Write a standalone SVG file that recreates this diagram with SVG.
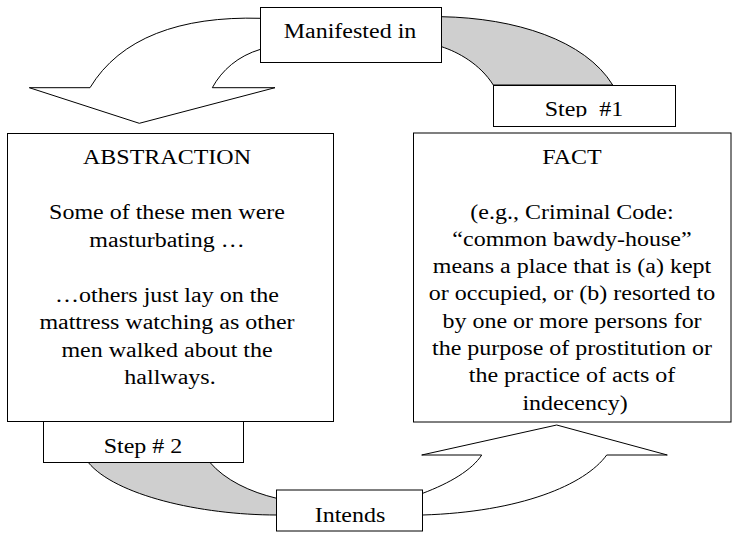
<svg xmlns="http://www.w3.org/2000/svg" width="733" height="533" viewBox="0 0 733 533">
<style>
.box{fill:#fff;stroke:#000;stroke-width:1}
.arw{fill:#fff;stroke:#000;stroke-width:1;stroke-linejoin:miter}
.shd{fill:#cfcfcf;stroke:#000;stroke-width:1}
.t{font-family:"Liberation Serif","Times New Roman",serif;font-size:24px;text-anchor:middle;fill:#000}
</style>
<defs>
<clipPath id="c1"><rect x="493" y="85" width="184" height="32.5"/></clipPath>
</defs>
<g id="connectors">
<path class="arw" d="M260.5,18.3 C180,16 120,38 90,87.7 L29.3,87.7 L139.3,123.3 L275,87.7 L212.3,87.7 C222,70 238,56 260.5,49.3"/>
<path class="shd" d="M441.5,16.7 C515,18 585,40 612.7,85 L493.3,85 C480,64 458,52 441.5,46.7 Z"/>
<path class="shd" d="M88.3,462.5 C115,495 200,515 276.7,515 L276.7,498.3 C250,492 225,480 210,462.5 Z"/>
<path class="arw" d="M422.7,493.3 C450,483 472,470 481.7,455 L421.7,455 L556.7,425 L667.3,455 L606.7,455 C585,485 520,512 422.7,515"/>
</g>
<g id="manifested">
<rect class="box" x="260.5" y="7.5" width="181" height="55"/>
<text class="t" transform="translate(350,37.7) scale(1,0.9)">Manifested in</text>
</g>
<g id="step1">
<rect class="box" x="493.5" y="85.5" width="182" height="41"/>
<text class="t" clip-path="url(#c1)" x="584" y="116" style="white-space:pre" transform="translate(0,11.6) scale(1,0.9)">Step  #1</text>
</g>
<g id="abstraction">
<rect class="box" x="7.5" y="133.5" width="326" height="288"/>
<text class="t" transform="translate(170,164.3) scale(1,0.9)">
<tspan x="0" y="0">ABSTRACTION</tspan>
<tspan x="0" y="61.1">Some of these men were</tspan>
<tspan x="0" y="91.7">masturbating …</tspan>
<tspan x="0" y="152.8">…others just lay on the</tspan>
<tspan x="0" y="183.3">mattress watching as other</tspan>
<tspan x="0" y="213.9">men walked about the</tspan>
<tspan x="0" y="244.4">hallways.</tspan>
</text>
</g>
<g id="fact">
<rect class="box" x="413.5" y="133" width="317.5" height="289"/>
<text class="t" transform="translate(575,164) scale(1,0.9)">
<tspan x="0" y="0">FACT</tspan>
<tspan x="0" y="60.67">(e.g., Criminal Code:</tspan>
<tspan x="0" y="91">“common bawdy-house”</tspan>
<tspan x="0" y="121.33">means a place that is (a) kept</tspan>
<tspan x="0" y="151.67">or occupied, or (b) resorted to</tspan>
<tspan x="0" y="182">by one or more persons for</tspan>
<tspan x="0" y="212.33">the purpose of prostitution or</tspan>
<tspan x="0" y="242.67">the practice of acts of</tspan>
<tspan x="0" y="273">indecency)</tspan>
</text>
</g>
<g id="step2">
<rect class="box" x="43.5" y="421.5" width="200" height="41"/>
<text class="t" transform="translate(143,453.3) scale(1,0.9)">Step # 2</text>
</g>
<g id="intends">
<rect class="box" x="276.5" y="490" width="146" height="41"/>
<text class="t" transform="translate(350,521.7) scale(1,0.9)">Intends</text>
</g>
</svg>
